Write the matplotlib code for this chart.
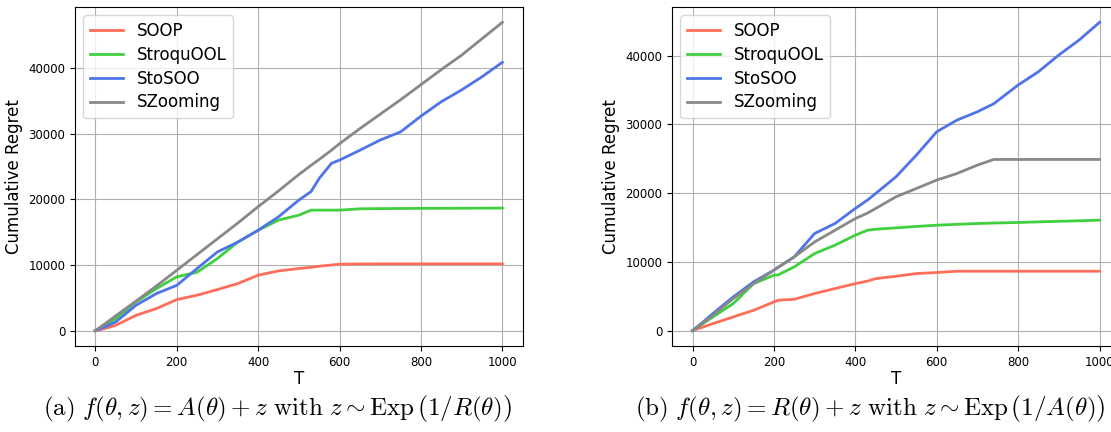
import matplotlib
matplotlib.use("Agg")
import matplotlib.pyplot as plt

plt.rcParams['mathtext.fontset'] = 'cm'

# --- panel (a) ---
T_a = [0, 25, 50, 100, 150, 200, 250, 300, 350, 400, 450, 500, 530, 550, 580,
       600, 650, 700, 750, 800, 850, 900, 950, 1000]
soop_a = [0, 350, 800, 2340, 3360, 4730, 5400, 6260, 7175, 8450, 9100, 9470, 9650,
          9820, 10000, 10130, 10170, 10180, 10180, 10180, 10180, 10180, 10180, 10180]
stroq_a = [0, 850, 1830, 4380, 6400, 8200, 8900, 11000, 13500, 15300, 16850, 17600,
           18370, 18370, 18370, 18370, 18570, 18600, 18620, 18640, 18650, 18660, 18670, 18680]
stosoo_a = [0, 600, 1320, 3870, 5650, 6900, 9470, 12000, 13500, 15300, 17350, 19900,
            21200, 23200, 25500, 26000, 27500, 29060, 30300, 32700, 34900, 36700, 38700, 40900]
szoom_a = [0, 1100, 2250, 4500, 6800, 9200, 11600, 14000, 16400, 18900, 21300, 23800,
           25200, 26100, 27500, 28500, 30800, 33000, 35200, 37500, 39800, 42000, 44500, 47000]

# --- panel (b) ---
T_b = [0, 25, 50, 100, 150, 200, 210, 250, 300, 350, 400, 430, 450, 500, 550, 600,
       650, 700, 740, 800, 850, 900, 950, 1000]
soop_b = [0, 500, 1020, 1990, 2960, 4170, 4420, 4560, 5390, 6120, 6840, 7200, 7570,
          7910, 8300, 8450, 8640, 8640, 8640, 8640, 8640, 8640, 8640, 8640]
stroq_b = [0, 1000, 1990, 3930, 6840, 8060, 8100, 9270, 11210, 12430, 13880, 14610,
           14750, 14950, 15150, 15340, 15460, 15580, 15650, 15730, 15820, 15900, 15980, 16070]
stosoo_b = [0, 1200, 2480, 4900, 7090, 8790, 9200, 10730, 14130, 15580, 17770, 19000,
            19950, 22380, 25530, 28930, 30630, 31840, 33000, 35730, 37670, 40100, 42280, 44850]
szoom_b = [0, 1100, 2230, 4660, 6840, 8790, 9200, 10730, 12900, 14600, 16300, 17100,
           17770, 19470, 20680, 21900, 22860, 24080, 24900, 24900, 24900, 24900, 24900, 24900]

labels = ["SOOP", "StroquOOL", "StoSOO", "SZooming"]
colors = ["#ff6e5a", "#3fcf3f", "#4f74e8", "#888888"]

captions = [
    r"$\mathrm{(a)}\ f(\theta, z) = A(\theta) + z\ \mathrm{with}\ z \sim \mathrm{Exp}\,\left(1/R(\theta)\right)$",
    r"$\mathrm{(b)}\ f(\theta, z) = R(\theta) + z\ \mathrm{with}\ z \sim \mathrm{Exp}\,\left(1/A(\theta)\right)$",
]

fig = plt.figure(figsize=(11.11, 4.32), dpi=100)
ax_a = fig.add_axes([0.0675, 0.199, 0.403, 0.785])
ax_b = fig.add_axes([0.605, 0.199, 0.403, 0.785])

panels = [(ax_a, T_a, [soop_a, stroq_a, stosoo_a, szoom_a]),
          (ax_b, T_b, [soop_b, stroq_b, stosoo_b, szoom_b])]

for ax, T, series in panels:
    for ys, lab, c in zip(series, labels, colors):
        ax.plot(T, ys, color=c, lw=2, label=lab)
    ax.grid(True, color="#b0b0b0", lw=0.8)
    ax.set_xticks([0, 200, 400, 600, 800, 1000])
    ax.tick_params(labelsize=8.5)
    ax.set_xlabel("T", fontsize=12, labelpad=1)
    ax.set_ylabel("Cumulative Regret", fontsize=12)
    ax.legend(loc="upper left", fontsize=12, handlelength=2.0, labelspacing=0.35)

fig.text(0.25, 0.055, captions[0], fontsize=18, ha="center", va="center")
fig.text(0.783, 0.055, captions[1], fontsize=18, ha="center", va="center")

fig.savefig("out.png", dpi=100)
